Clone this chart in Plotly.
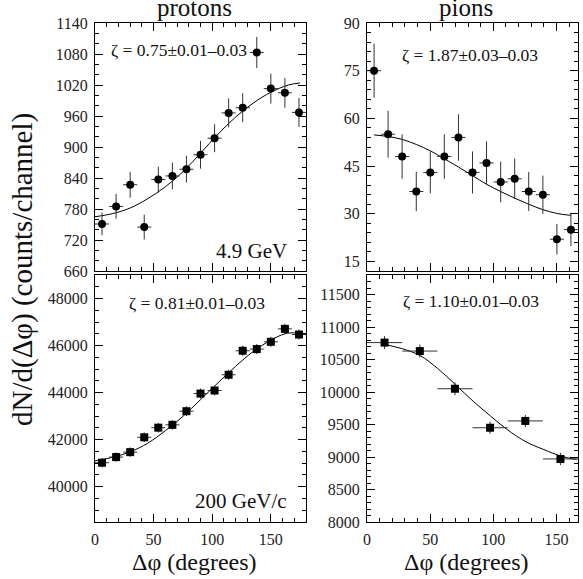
import plotly.graph_objects as go

# ---------------- data ----------------
# protons, 4.9 GeV (top-left)
p49_x = [6, 18, 30, 42, 54, 66, 78, 90, 102, 114, 126, 138, 150, 162, 174]
p49_y = [751, 785, 827, 745, 837, 844, 857, 885, 917, 966, 976, 1083, 1013, 1005, 967]
p49_err = [22, 24, 25, 24, 25, 26, 26, 27, 27, 28, 28, 30, 29, 29, 28]
p49_fit_x = [0, 15, 30, 45, 60, 75, 90, 105, 120, 135, 150, 165, 175]
p49_fit_y = [765, 771, 782, 800, 823, 852, 888, 925, 958, 985, 1006, 1020, 1024]

# pions, 4.9 GeV (top-right)
pi49_x = [5.6, 16.7, 27.8, 39.0, 50.1, 61.2, 72.4, 83.5, 94.6, 105.8, 116.9, 128.0, 139.2, 150.3, 161.4]
pi49_y = [75, 55, 48, 37, 43, 48, 54, 43, 46, 40, 41, 37, 36, 22, 25]
pi49_err = [8.5, 7.4, 7.0, 6.2, 6.6, 7.0, 7.3, 6.6, 6.8, 6.4, 6.4, 6.1, 6.0, 4.8, 5.2]
pi49_fit_x = [5.6, 16.7, 27.8, 39.0, 50.1, 61.2, 72.4, 83.5, 94.6, 105.8, 116.9, 128.0, 139.2, 150.3, 161.4]
pi49_fit_y = [54.8, 54.3, 53.4, 51.8, 49.8, 47.3, 44.7, 42.0, 39.3, 37.0, 34.9, 33.0, 31.3, 30.1, 29.5]

# protons, 200 GeV/c (bottom-left)
p200_x = [6, 18, 30, 42, 54, 66, 78, 90, 102, 114, 126, 138, 150, 162, 174]
p200_y = [41020, 41260, 41470, 42100, 42510, 42630, 43210, 43960, 44090, 44760, 45780, 45850, 46160, 46710, 46470]
p200_err = [200, 200, 200, 205, 205, 205, 208, 210, 210, 212, 214, 214, 215, 216, 215]
p200_fit_x = [0, 15, 30, 45, 60, 75, 90, 105, 120, 135, 150, 162, 170, 176]
p200_fit_y = [41100, 41250, 41480, 41850, 42380, 42990, 43700, 44420, 45120, 45750, 46230, 46500, 46540, 46490]

# pions, 200 GeV/c (bottom-right)
pi200_x = [13.9, 41.8, 69.6, 97.4, 125.3, 153.1]
pi200_y = [10760, 10630, 10050, 9450, 9555, 8970]
pi200_err = [100, 100, 100, 95, 95, 95]
pi200_fit_x = [13.9, 28, 42, 56, 70, 84, 98, 111, 126, 140, 154, 166]
pi200_fit_y = [10730, 10665, 10561, 10360, 10114, 9858, 9627, 9421, 9232, 9114, 9011, 8960]

p_halfbin = 6
pi49_halfbin = 5.57
pi200_halfbin = 13.9

labels = {
    "tl": "ζ = 0.75±0.01–0.03",
    "tr": "ζ = 1.87±0.03–0.03",
    "bl": "ζ = 0.81±0.01–0.03",
    "br": "ζ = 1.10±0.01–0.03",
}

# ---------------- figure ----------------
W, H = 583, 579
FONT = "Liberation Serif, Times New Roman, serif"

def xd(a, b):
    return [a / W, b / W]

def yd(top, bot):
    return [1 - bot / H, 1 - top / H]

fig = go.Figure()

def add_points(x, y, err, halfbin, symbol, xa, ya):
    fig.add_trace(go.Scatter(
        x=x, y=y, mode="markers", xaxis=xa, yaxis=ya,
        marker=dict(symbol=symbol, size=8, color="black"),
        error_y=dict(type="data", array=err, width=0, thickness=1, color="#333"),
        error_x=dict(type="constant", value=halfbin, width=0, thickness=1, color="#333"),
        showlegend=False, hoverinfo="skip", cliponaxis=False))

def add_fit(x, y, xa, ya):
    fig.add_trace(go.Scatter(
        x=x, y=y, mode="lines", xaxis=xa, yaxis=ya,
        line=dict(color="black", width=1, shape="spline", smoothing=1.0),
        showlegend=False, hoverinfo="skip"))

add_fit(p49_fit_x, p49_fit_y, "x", "y")
add_points(p49_x, p49_y, p49_err, p_halfbin, "circle", "x", "y")
add_fit(pi49_fit_x, pi49_fit_y, "x2", "y2")
add_points(pi49_x, pi49_y, pi49_err, pi49_halfbin, "circle", "x2", "y2")
add_fit(p200_fit_x, p200_fit_y, "x3", "y3")
add_points(p200_x, p200_y, p200_err, p_halfbin, "square", "x3", "y3")
add_fit(pi200_fit_x, pi200_fit_y, "x4", "y4")
add_points(pi200_x, pi200_y, pi200_err, pi200_halfbin, "square", "x4", "y4")

def axis(**kw):
    base = dict(showline=True, linecolor="black", linewidth=1.3, mirror="allticks",
                ticks="inside", ticklen=8, tickwidth=1, tickcolor="black",
                showgrid=False, zeroline=False, automargin=False,
                tickformat="d",
                tickfont=dict(family=FONT, size=16, color="#222"))
    base.update(kw)
    return base

def minor(step):
    return dict(ticks="inside", ticklen=4, tickwidth=1, tickcolor="black", dtick=step)

L = (95, 306)
R = (367, 578)
T = (23, 271)
B = (275, 522)

fig.update_layout(
    width=W, height=H, margin=dict(l=0, r=0, t=0, b=0, autoexpand=False),
    paper_bgcolor="white", plot_bgcolor="white",
    xaxis=axis(domain=xd(*L), anchor="y", range=[0, 180], dtick=50, tick0=0,
               showticklabels=False, minor=minor(10)),
    yaxis=axis(domain=yd(*T), anchor="x", range=[660, 1140], dtick=60, tick0=660,
               ticklabelstandoff=3, minor=minor(20)),
    xaxis2=axis(domain=xd(*R), anchor="y2", range=[0, 167], dtick=50, tick0=0,
                showticklabels=False, minor=minor(10)),
    yaxis2=axis(domain=yd(*T), anchor="x2", range=[12, 90], dtick=15, tick0=15,
                ticklabelstandoff=3, minor=minor(3)),
    xaxis3=axis(domain=xd(*L), anchor="y3", range=[0, 180], dtick=50, tick0=0,
                ticklabelstandoff=3, minor=minor(10)),
    yaxis3=axis(domain=yd(*B), anchor="x3", range=[38500, 49000], dtick=2000, tick0=40000,
                ticklabelstandoff=3, minor=minor(500)),
    xaxis4=axis(domain=xd(*R), anchor="y4", range=[0, 167], dtick=50, tick0=0,
                ticklabelstandoff=3, minor=minor(10)),
    yaxis4=axis(domain=yd(*B), anchor="x4", range=[8000, 11800], dtick=500, tick0=8000,
                ticklabelstandoff=3, minor=minor(100)),
)

def ann(text, px, py, size, angle=0, color="#111"):
    fig.add_annotation(text=text, x=px / W, y=1 - py / H, xref="paper", yref="paper",
                       xanchor="center", yanchor="middle", showarrow=False,
                       textangle=angle, font=dict(family=FONT, size=size, color=color))

ann(labels["tl"], 179, 50, 17.5)
ann(labels["tr"], 470, 55, 17.5)
ann(labels["bl"], 197, 303, 17.5)
ann(labels["br"], 471, 301, 17.5)
ann("4.9 GeV", 251, 251, 21)
ann("200 GeV/c", 241, 501, 21)
ann("protons", 194, 8, 25)
ann("pions", 466, 8, 25)
ann("Δφ (degrees)", 194, 562, 24)
ann("Δφ (degrees)", 466, 562, 24)
ann("dN/d(Δφ) (counts/channel)", 22, 270, 29, angle=-90)

fig.write_html("out.html", config={"displayModeBar": False},
               post_script="document.body.style.margin='0';")
